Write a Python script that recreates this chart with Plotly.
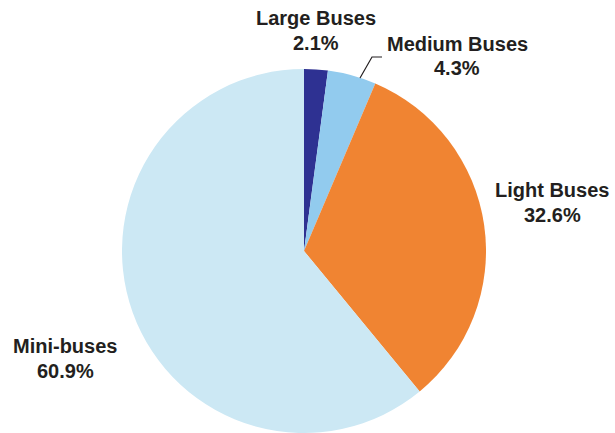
import plotly.graph_objects as go

# Bus fleet composition by category
categories = ["Large Buses", "Medium Buses", "Light Buses", "Mini-buses"]
shares = [2.1, 4.3, 32.6, 60.9]
colors = ["#2E3192", "#92CBEE", "#F08432", "#CCE8F4"]

W, H = 615, 433

fig = go.Figure(
    go.Pie(
        labels=categories,
        values=shares,
        sort=False,
        direction="clockwise",
        rotation=0,
        marker=dict(colors=colors, line=dict(width=0)),
        textinfo="none",
        hoverinfo="label+percent",
        showlegend=False,
        domain=dict(x=[122 / W, 486 / W], y=[0, 364 / H]),
    )
)

# Caption positions in pixels: (centre x, name line y, value line y)
label_pos = {
    "Large Buses": (316, 18, 43),
    "Medium Buses": (457, 44, 68),
    "Light Buses": (552, 190, 215),
    "Mini-buses": (65, 346, 371),
}

font = dict(family="Liberation Sans, Arial, sans-serif", size=20, color="#231F20")
for name, val in zip(categories, shares):
    px, y1, y2 = label_pos[name]
    for txt, py in ((name, y1), (f"{val}%", y2)):
        fig.add_annotation(
            x=px / W, y=1 - py / H, xref="paper", yref="paper",
            text=f"<b>{txt}</b>", showarrow=False, align="center",
            xanchor="center", yanchor="middle", font=font,
        )

# Leader line for the thin Medium Buses slice
pts = [(360, 78), (372, 57), (382, 57)]
path = "M " + " L ".join(f"{x / W},{1 - y / H}" for x, y in pts)
fig.add_shape(type="path", path=path, xref="paper", yref="paper",
              line=dict(color="#231F20", width=1.2))

fig.update_layout(
    width=W, height=H,
    margin=dict(l=0, r=0, t=0, b=0),
    paper_bgcolor="white", plot_bgcolor="white",
)

fig.write_html("out.html")
